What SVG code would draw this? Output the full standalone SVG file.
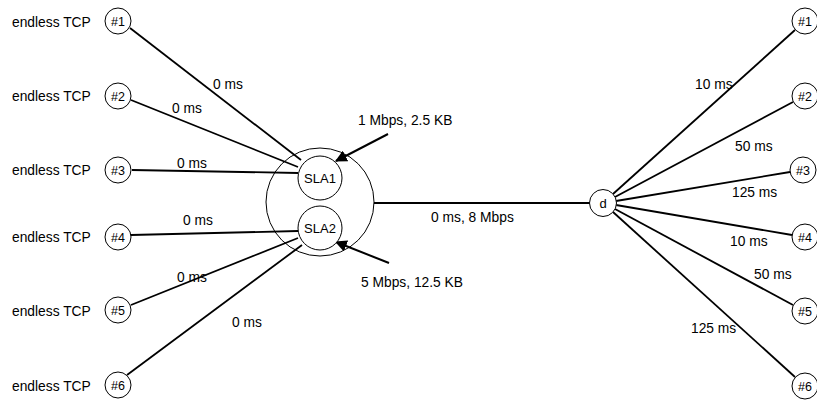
<svg xmlns="http://www.w3.org/2000/svg" width="817" height="402" viewBox="0 0 817 402">
<style>
text{font-family:"Liberation Sans",Arial,sans-serif;fill:#000}
.lbl{font-size:13.8px}
.num{font-size:12.5px;text-anchor:middle}
.nd{fill:#fff;stroke:#000;stroke-width:1}
.ln{stroke:#000;stroke-width:1.8;fill:none}
.ar{stroke:#000;stroke-width:2;fill:none;marker-end:url(#ah)}
</style>
<defs>
<marker id="ah" viewBox="0 0 10 10" refX="9" refY="5" markerWidth="6" markerHeight="6" markerUnits="strokeWidth" orient="auto">
<path d="M0,0 L10,5 L0,10 z" fill="#000"/>
</marker>
</defs>
<g id="connectors">
<line class="ln" x1="130" y1="28" x2="301" y2="160"/>
<line class="ln" x1="131" y1="100" x2="298" y2="167"/>
<line class="ln" x1="132" y1="170" x2="298" y2="173"/>
<line class="ln" x1="131" y1="235" x2="298" y2="231"/>
<line class="ln" x1="131" y1="305" x2="298" y2="238"/>
<line class="ln" x1="127" y1="375" x2="302" y2="245"/>
<line class="ln" x1="374" y1="203" x2="590" y2="203"/>
<line class="ln" x1="613" y1="194" x2="795" y2="30"/>
<line class="ln" x1="615" y1="197" x2="793" y2="102"/>
<line class="ln" x1="616" y1="201" x2="790" y2="172"/>
<line class="ln" x1="616" y1="205" x2="792" y2="235"/>
<line class="ln" x1="615" y1="209" x2="793" y2="305"/>
<line class="ln" x1="613" y1="212" x2="795" y2="377"/>
<line class="ar" x1="388" y1="134" x2="336" y2="161"/>
<line class="ar" x1="389" y1="263" x2="336" y2="242"/>
<text class="lbl" x="213" y="89">0 ms</text>
<text class="lbl" x="172" y="113">0 ms</text>
<text class="lbl" x="177" y="168">0 ms</text>
<text class="lbl" x="183" y="225">0 ms</text>
<text class="lbl" x="177" y="282">0 ms</text>
<text class="lbl" x="232" y="327">0 ms</text>
<text class="lbl" x="431" y="222">0 ms, 8 Mbps</text>
<text class="lbl" x="358" y="125">1 Mbps, 2.5 KB</text>
<text class="lbl" x="361" y="287">5 Mbps, 12.5 KB</text>
<text class="lbl" x="695" y="89">10 ms</text>
<text class="lbl" x="735" y="151">50 ms</text>
<text class="lbl" x="732" y="197">125 ms</text>
<text class="lbl" x="730" y="246">10 ms</text>
<text class="lbl" x="754" y="279">50 ms</text>
<text class="lbl" x="691" y="333">125 ms</text>
</g>
<g id="src1"><text class="lbl" x="12" y="27">endless TCP</text><circle class="nd" cx="118" cy="21" r="13"/><text class="num" x="118" y="25.5">#1</text></g>
<g id="src2"><text class="lbl" x="12" y="101">endless TCP</text><circle class="nd" cx="118" cy="96" r="13"/><text class="num" x="118" y="100.5">#2</text></g>
<g id="src3"><text class="lbl" x="12" y="175">endless TCP</text><circle class="nd" cx="118" cy="170" r="13"/><text class="num" x="118" y="174.5">#3</text></g>
<g id="src4"><text class="lbl" x="12" y="242">endless TCP</text><circle class="nd" cx="118" cy="237" r="13"/><text class="num" x="118" y="241.5">#4</text></g>
<g id="src5"><text class="lbl" x="12" y="316">endless TCP</text><circle class="nd" cx="118" cy="310" r="13"/><text class="num" x="118" y="314.5">#5</text></g>
<g id="src6"><text class="lbl" x="12" y="391">endless TCP</text><circle class="nd" cx="118" cy="385" r="13"/><text class="num" x="118" y="389.5">#6</text></g>
<g id="router"><circle class="nd" cx="320" cy="202" r="54" style="fill:none"/></g>
<g id="sla1"><circle class="nd" cx="320" cy="178" r="22"/><text class="num" x="320" y="183" style="font-size:13px">SLA1</text></g>
<g id="sla2"><circle class="nd" cx="320" cy="228" r="22"/><text class="num" x="320" y="233" style="font-size:13px">SLA2</text></g>
<g id="d"><circle class="nd" cx="603" cy="203" r="13.5"/><text class="num" x="603" y="208" style="font-size:13px">d</text></g>
<g id="dst1"><circle class="nd" cx="805" cy="21" r="13"/><text class="num" x="805" y="25.5">#1</text></g>
<g id="dst2"><circle class="nd" cx="805" cy="96" r="13"/><text class="num" x="805" y="100.5">#2</text></g>
<g id="dst3"><circle class="nd" cx="803" cy="170" r="13"/><text class="num" x="803" y="174.5">#3</text></g>
<g id="dst4"><circle class="nd" cx="805" cy="237" r="13"/><text class="num" x="805" y="241.5">#4</text></g>
<g id="dst5"><circle class="nd" cx="805" cy="311" r="13"/><text class="num" x="805" y="315.5">#5</text></g>
<g id="dst6"><circle class="nd" cx="805" cy="386" r="13"/><text class="num" x="805" y="390.5">#6</text></g>
</svg>
